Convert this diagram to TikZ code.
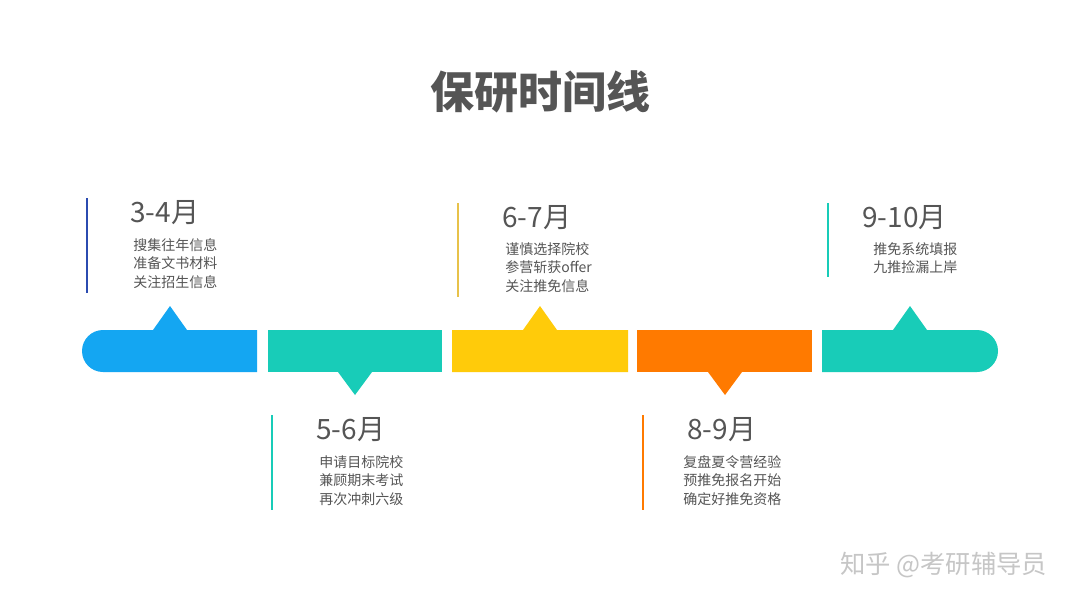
\documentclass[tikz,border=0pt]{standalone}
\usepackage{fontspec}
\setmainfont{Noto Sans CJK SC}
\definecolor{cblue}{HTML}{14A6F2}
\definecolor{cteal}{HTML}{18CCB8}
\definecolor{cyel}{HTML}{FFCB0A}
\definecolor{corg}{HTML}{FF7A00}
\definecolor{lblue}{HTML}{2B4BB0}
\definecolor{lyel}{HTML}{E8C24A}
\definecolor{txt}{HTML}{555555}
\tikzset{
  lab/.style={anchor=west,inner sep=0,text=txt,font=\fontsize{21}{21}\selectfont},
  item/.style={anchor=north west,inner sep=0,text=txt,align=left,font=\fontsize{10.5}{14}\selectfont},
  vl/.style={line width=2.2pt}
}
\begin{document}
\begin{tikzpicture}[x=0.75pt,y=-0.75pt]
\path[use as bounding box,fill=white] (0,0) rectangle (1080,608);
\node[text=txt,font=\fontsize{33}{33}\selectfont\bfseries] (title) at (540,92) {保研时间线};
% bar segments
\fill[cblue] (257,330) -- (187,330) -- (170,306) -- (153,330) -- (103,330) arc[start angle=-90,end angle=-270,radius=21] -- (257,372) -- cycle;
\fill[cteal] (268,330) rectangle (442,372);
\fill[cteal] (338,372) -- (355,395) -- (372,372) -- cycle;
\fill[cyel] (452,330) -- (523,330) -- (540,306) -- (557,330) -- (628,330) -- (628,372) -- (452,372) -- cycle;
\fill[corg] (637,330) rectangle (812,372);
\fill[corg] (708,372) -- (725,395) -- (742,372) -- cycle;
\fill[cteal] (822,330) -- (893,330) -- (910,306) -- (927,330) -- (977,330) arc[start angle=-90,end angle=90,radius=21] -- (822,372) -- cycle;
% blocks
\draw[vl,lblue] (87,198) -- (87,293);
\node[lab] (l1) at (130,213) {3-4月};
\node[item] (i1) at (133,238) {搜集往年信息\\准备文书材料\\关注招生信息};
\draw[vl,cteal] (272,415) -- (272,510);
\node[lab] (l2) at (316,430) {5-6月};
\node[item] (i2) at (319,455) {申请目标院校\\兼顾期末考试\\再次冲刺六级};
\draw[vl,lyel] (458,203) -- (458,297);
\node[lab] (l3) at (502,218) {6-7月};
\node[item] (i3) at (505,242) {谨慎选择院校\\参营斩获offer\\关注推免信息};
\draw[vl,corg] (643,415) -- (643,510);
\node[lab] (l4) at (687,430) {8-9月};
\node[item] (i4) at (683,455) {复盘夏令营经验\\预推免报名开始\\确定好推免资格};
\draw[vl,cteal] (828,203) -- (828,277);
\node[lab] (l5) at (862,218) {9-10月};
\node[item] (i5) at (873,242) {推免系统填报\\九推捡漏上岸};
\node[anchor=east,text=gray!45,font=\fontsize{19}{19}\selectfont] (wm) at (1052,565) {知乎 @考研辅导员};
\end{tikzpicture}
\end{document}
